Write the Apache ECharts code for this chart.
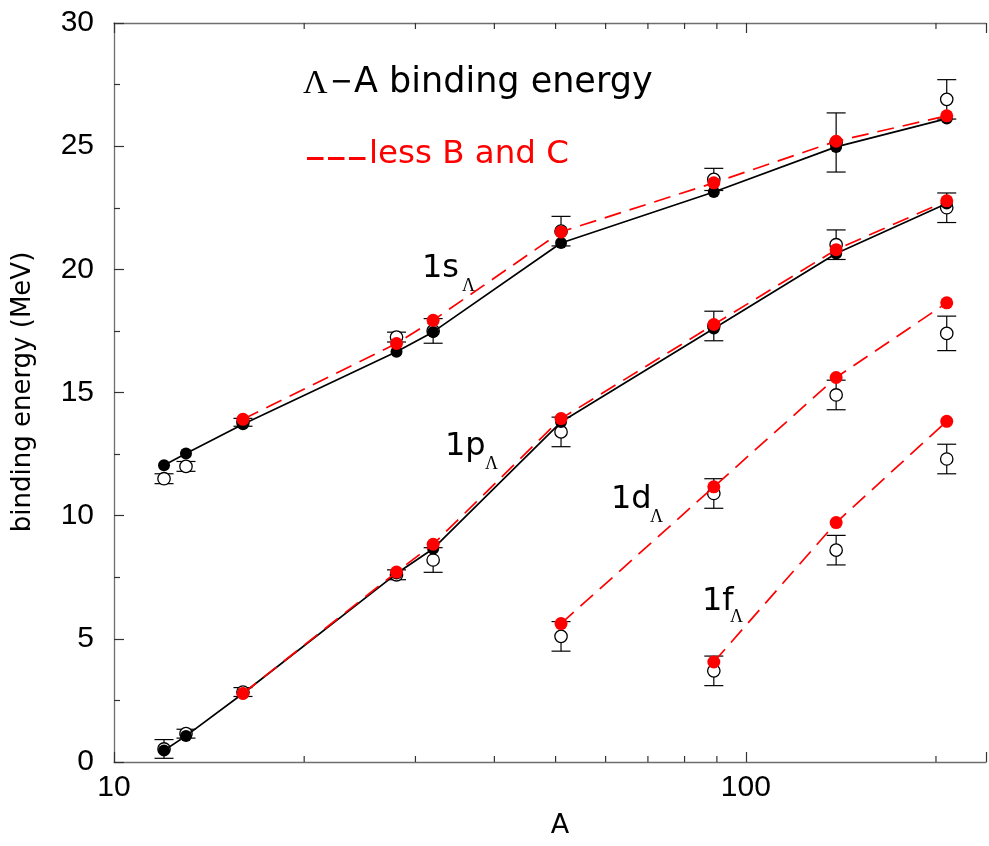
<!DOCTYPE html>
<html>
<head>
<meta charset="utf-8">
<script src="https://cdn.jsdelivr.net/npm/echarts@6/dist/echarts.min.js"></script>
<style>
  html, body { margin: 0; padding: 0; background: #fff; }
  #chart { width: 989px; height: 846px; }
</style>
</head>
<body>
<div id="chart"></div>
<script>
// Mass numbers of the hypernuclei
const massNumbers = [12, 13, 16, 28, 32, 51, 89, 139, 208];

// 1s Lambda level (MeV)
const s1Calc = [12.05, 12.52, 13.71, 16.65, 17.46, 21.07, 23.14, 24.97, 26.12];
const s1LessA = [16, 28, 32, 51, 89, 139, 208];
const s1Less = [13.91, 16.99, 17.93, 21.52, 23.51, 25.20, 26.23];
const s1Exp = [11.5, 12.0, 13.79, 17.25, 17.5, 21.55, 23.65, 25.15, 26.9];
const s1Err = [0.2, 0.2, 0.16, 0.2, 0.5, 0.6, 0.45, 1.2, 0.8];

// 1p Lambda level (MeV)
const p1Calc = [0.47, 1.06, 2.78, 7.65, 8.66, 13.80, 17.60, 20.64, 22.67];
const p1LessA = [16, 28, 32, 51, 89, 139, 208];
const p1Less = [2.78, 7.71, 8.84, 13.94, 17.76, 20.80, 22.78];
const p1Exp = [0.53, 1.15, 2.84, 7.6, 8.2, 13.4, 17.7, 21.0, 22.5];
const p1Err = [0.38, 0.18, 0.18, 0.2, 0.5, 0.6, 0.6, 0.6, 0.6];

// 1d Lambda level (MeV)
const d1A = [51, 89, 139, 208];
const d1Less = [5.62, 11.17, 15.61, 18.64];
const d1Exp = [5.1, 10.9, 14.9, 17.4];
const d1Err = [0.6, 0.6, 0.6, 0.7];

// 1f Lambda level (MeV)
const f1A = [89, 139, 208];
const f1Less = [4.06, 9.72, 13.83];
const f1Exp = [3.7, 8.6, 12.3];
const f1Err = [0.6, 0.6, 0.6];

// Axis ticks
const xMajorLabels = [10, 100];
const xMinorTicks = [20, 30, 40, 50, 60, 70, 80, 90, 200];
const yTickValues = [0, 5, 10, 15, 20, 25, 30];

const zip = (xs, ys) => xs.map((x, i) => [x, ys[i]]);
const zip3 = (xs, ys, es) => xs.map((x, i) => [x, ys[i], es[i]]);

const expData = [].concat(
  zip3(massNumbers, s1Exp, s1Err),
  zip3(massNumbers, p1Exp, p1Err),
  zip3(d1A, d1Exp, d1Err),
  zip3(f1A, f1Exp, f1Err)
);

const SANS = '"DejaVu Sans", sans-serif';
const TICK_FONT = '"Liberation Sans", Arial, sans-serif';
const SERIF = '"Liberation Serif", "DejaVu Serif", serif';

const blackLine = (data) => ({
  type: 'line', data, z: 3, symbol: 'circle', symbolSize: 12, showSymbol: true,
  itemStyle: { color: '#000' },
  lineStyle: { color: '#000', width: 1.7 },
  animation: false, silent: true
});
const redLine = (data) => ({
  type: 'line', data, z: 4, symbol: 'circle', symbolSize: 13, showSymbol: true,
  itemStyle: { color: '#ff0000' },
  lineStyle: { color: '#ff0000', width: 1.7, type: [17, 9] },
  animation: false, silent: true
});

const chart = echarts.init(document.getElementById('chart'), null, { renderer: 'canvas' });

const txt = (text, x, y, font, fill, align) => ({
  type: 'text', silent: true, z: 20,
  style: { text, x, y, font, fill: fill || '#000',
           textAlign: align || 'left', align: align || 'left',
           textVerticalAlign: 'middle', verticalAlign: 'middle' }
});

chart.setOption({
  animation: false,
  backgroundColor: '#fff',
  grid: { left: 114, right: 0, top: 23, bottom: 84 },
  xAxis: [{
    type: 'log', logBase: 10, min: 10, max: 240,
    axisLine: { show: true, lineStyle: { color: '#6e6e6e', width: 1.3 } },
    axisTick: { show: true, inside: true, length: 10, lineStyle: { color: '#333', width: 1.2 } },
    axisLabel: {
      fontFamily: TICK_FONT, fontSize: 30, color: '#000', margin: 11,
      formatter: (v) => {
        const r = Math.round(v);
        return xMajorLabels.indexOf(r) >= 0 ? String(r) : '';
      }
    },
    splitLine: { show: false }, minorTick: { show: false }
  }, {
    type: 'log', logBase: 10, min: 10, max: 240, position: 'top',
    axisLine: { show: true, lineStyle: { color: '#6e6e6e', width: 1.3 } },
    axisTick: { show: true, inside: true, length: 10, lineStyle: { color: '#333', width: 1.2 } },
    axisLabel: { show: false },
    splitLine: { show: false }
  }],
  yAxis: {
    type: 'value', min: yTickValues[0], max: yTickValues[yTickValues.length - 1], interval: 5,
    axisLine: { show: true, lineStyle: { color: '#6e6e6e', width: 1.3 } },
    axisTick: { show: true, inside: true, length: 10, lineStyle: { color: '#333', width: 1.2 } },
    minorTick: { show: true, splitNumber: 2, length: 6, lineStyle: { color: '#333', width: 1.2 } },
    axisLabel: { fontFamily: TICK_FONT, fontSize: 30, color: '#000', margin: 20 },
    splitLine: { show: false }
  },
  series: [
    {
      // minor ticks of the logarithmic A axis, bottom and top
      type: 'custom', z: 1, silent: true, clip: false,
      data: xMinorTicks.map(v => [v, 0]),
      encode: { x: 0, y: 1 },
      renderItem: (params, api) => {
        const b = api.coord([api.value(0), 0]);
        const t = api.coord([api.value(0), 30]);
        const st = { stroke: '#333', lineWidth: 1.2 };
        return { type: 'group', children: [
          { type: 'line', shape: { x1: b[0], y1: b[1], x2: b[0], y2: b[1] - 6 }, style: st },
          { type: 'line', shape: { x1: t[0], y1: t[1], x2: t[0], y2: t[1] + 6 }, style: st }
        ] };
      }
    },
    {
      // measured levels: open circles with error bars
      type: 'custom', z: 2, silent: true,
      data: expData,
      encode: { x: 0, y: 1 },
      renderItem: (params, api) => {
        const a = api.value(0), v = api.value(1), e = api.value(2);
        const c = api.coord([a, v]);
        const hi = api.coord([a, v + e]);
        const lo = api.coord([a, v - e]);
        const st = { stroke: '#000', lineWidth: 1.2 };
        return { type: 'group', children: [
          { type: 'line', shape: { x1: c[0], y1: hi[1], x2: c[0], y2: lo[1] }, style: st },
          { type: 'line', shape: { x1: c[0] - 9.5, y1: hi[1], x2: c[0] + 9.5, y2: hi[1] }, style: st },
          { type: 'line', shape: { x1: c[0] - 9.5, y1: lo[1], x2: c[0] + 9.5, y2: lo[1] }, style: st },
          { type: 'circle', shape: { cx: c[0], cy: c[1], r: 6.2 },
            style: { fill: '#fff', stroke: '#000', lineWidth: 1.3 } }
        ] };
      }
    },
    blackLine(zip(massNumbers, s1Calc)),
    blackLine(zip(massNumbers, p1Calc)),
    redLine(zip(s1LessA, s1Less)),
    redLine(zip(p1LessA, p1Less)),
    redLine(zip(d1A, d1Less)),
    redLine(zip(f1A, f1Less))
  ],
  graphic: [
    // heading
    txt('\u039B', 303, 84, '34px ' + SERIF),
    txt('\u2212', 331, 83, '35px ' + TICK_FONT),
    txt('A binding energy', 354, 83, '35px ' + SANS),
    // legend entry for the red dashed curves
    { type: 'line', silent: true, z: 20,
      shape: { x1: 307, y1: 158.5, x2: 366, y2: 158.5 },
      style: { stroke: '#ff0000', lineWidth: 3, lineDash: [16.5, 4.5] } },
    txt('less B and C', 369, 155, '32.5px ' + SANS, '#ff0000'),
    // level labels
    txt('1s', 422, 268.5, '32px ' + SANS),
    txt('\u039B', 462, 286, '18px ' + SERIF),
    txt('1p', 445, 446.5, '32px ' + SANS),
    txt('\u039B', 485, 464, '18px ' + SERIF),
    txt('1d', 611, 499.5, '32px ' + SANS),
    txt('\u039B', 650, 517, '18px ' + SERIF),
    txt('1f', 702, 601.5, '32px ' + SANS),
    txt('\u039B', 730, 617, '18px ' + SERIF),
    // axis titles
    txt('A', 560, 826, '27px ' + SANS, '#000', 'center'),
    { type: 'text', silent: true, z: 20, x: 23, y: 392, rotation: Math.PI / 2,
      style: { text: 'binding energy (MeV)', x: 0, y: 0, font: '26px ' + SANS, fill: '#000',
               textAlign: 'center', align: 'center', textVerticalAlign: 'middle', verticalAlign: 'middle' } }
  ]
});
</script>
</body>
</html>
